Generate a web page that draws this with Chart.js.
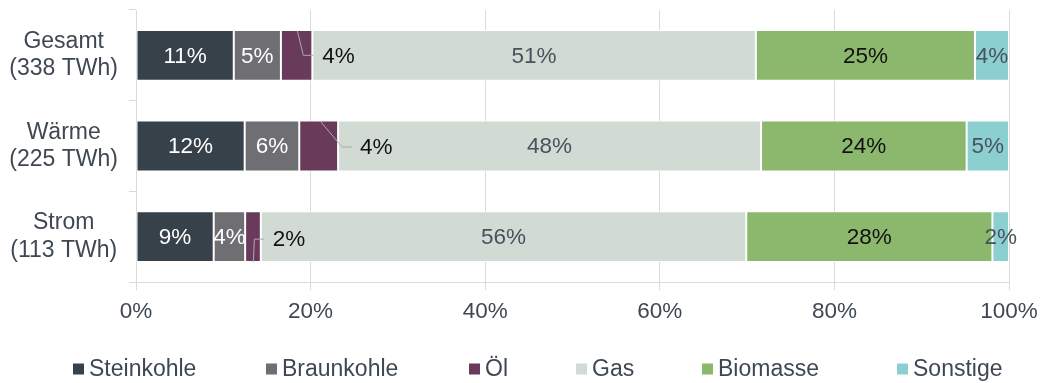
<!DOCTYPE html>
<html lang="de">
<head>
<meta charset="utf-8">
<title>Brennstoffeinsatz nach Energieträger</title>
<script src="https://cdn.jsdelivr.net/npm/chart.js@4.4.1/dist/chart.umd.min.js"></script>
<style>
  html, body { margin: 0; padding: 0; background: #fff; }
  #wrap { width: 1042px; height: 383px; position: relative; }
</style>
</head>
<body>
<div id="wrap"><canvas id="chart"></canvas></div>
<script>
// Kategorien (Zeilen) und Energieträger
const categories = [['Gesamt', '(338 TWh)'], ['Wärme', '(225 TWh)'], ['Strom', '(113 TWh)']];
const seriesNames = ['Steinkohle', 'Braunkohle', 'Öl', 'Gas', 'Biomasse', 'Sonstige'];

// Anteile in % je Kategorie: Gesamt, Wärme, Strom
const steinkohle = [11.2, 12.45, 8.9];
const braunkohle = [5.4, 6.25, 3.6];
const oel        = [3.6, 4.45, 1.8];
const gas        = [50.8, 48.45, 55.6];
const biomasse   = [25.1, 23.55, 28.2];
const sonstige   = [3.9, 4.85, 1.9];

const xTicks = [0, 20, 40, 60, 80, 100];

// Darstellung
const FONT = '"Liberation Sans", Arial, sans-serif';
const TICK_SIZE = 22.5;
const CAT_SIZE = 23;
const TEXT = '#3f4852';
const GRID = '#d6ddd7';
const fillColors  = ['#37414a', '#6f6f73', '#6a3a5b', '#d1dbd3', '#8bb86c', '#8ccfd1'];
const labelColors = ['#ffffff', '#ffffff', '#111111', '#48525c', '#111111', '#48525c'];

// Öl-Beschriftungen sitzen neben dem Balken, mit Führungslinie
// (Versatz relativ zum rechten Balkenende / zur Balkenmitte)
const oelCallouts = [
  { label: [10, 0],   line: [[-15, -24.5], [-9, 0], [1, 0]] },
  { label: [22, 1],   line: [[-18, -25], [4, 1], [14, 1]] },
  { label: [12, 2.5], line: [[-7.5, 25.5], [-6.5, 2.5], [3.5, 2.5]] }
];

// Legende: linke Kante der Farbkästchen
const legendX = [73, 266, 469, 576, 702, 897];
const legendY = 369;

const seriesData = [steinkohle, braunkohle, oel, gas, biomasse, sonstige];

const datasets = seriesNames.map((name, i) => ({
  label: name,
  data: seriesData[i],
  backgroundColor: fillColors[i],
  borderColor: '#ffffff',
  borderWidth: 1,
  borderSkipped: false,
  barPercentage: 0.56,
  categoryPercentage: 1,
  labelColor: labelColors[i],
  callouts: name === 'Öl' ? oelCallouts : null
}));

// Prozentwerte in bzw. neben den Balken
const barLabels = {
  id: 'barLabels',
  afterDatasetsDraw(chart) {
    const ctx = chart.ctx;
    ctx.save();
    ctx.font = `${TICK_SIZE}px ${FONT}`;
    ctx.textBaseline = 'middle';
    chart.data.datasets.forEach((ds, i) => {
      const meta = chart.getDatasetMeta(i);
      meta.data.forEach((bar, j) => {
        const text = Math.round(ds.data[j]) + '%';
        ctx.fillStyle = ds.labelColor;
        if (ds.callouts) {
          const c = ds.callouts[j];
          ctx.strokeStyle = '#a4abb3';
          ctx.lineWidth = 1;
          ctx.beginPath();
          c.line.forEach(([dx, dy], k) => {
            if (k === 0) ctx.moveTo(bar.x + dx, bar.y + dy);
            else ctx.lineTo(bar.x + dx, bar.y + dy);
          });
          ctx.stroke();
          ctx.textAlign = 'left';
          ctx.fillText(text, bar.x + c.label[0], bar.y + c.label[1] + 1);
        } else {
          ctx.textAlign = 'center';
          ctx.fillText(text, (bar.x + bar.base) / 2, bar.y + 1);
        }
      });
    });
    ctx.restore();
  }
};

// Legende unter der Achse, einzeilig
const bottomLegend = {
  id: 'bottomLegend',
  afterDraw(chart) {
    const ctx = chart.ctx;
    ctx.save();
    ctx.font = `${CAT_SIZE}px ${FONT}`;
    ctx.textBaseline = 'middle';
    ctx.textAlign = 'left';
    chart.data.datasets.forEach((ds, i) => {
      const x = legendX[i];
      ctx.fillStyle = ds.backgroundColor;
      ctx.fillRect(x, legendY - 5.5, 11, 11);
      ctx.fillStyle = TEXT;
      ctx.fillText(ds.label, x + 16, legendY + 1);
    });
    ctx.restore();
  }
};

new Chart(document.getElementById('chart'), {
  type: 'bar',
  data: { labels: categories, datasets },
  options: {
    indexAxis: 'y',
    responsive: true,
    maintainAspectRatio: false,
    animation: false,
    layout: { padding: { left: 10, right: 33, top: 10, bottom: 58 } },
    scales: {
      x: {
        stacked: true,
        min: 0,
        max: 100,
        afterBuildTicks: axis => { axis.ticks = xTicks.map(v => ({ value: v })); },
        afterFit: axis => {
          axis.paddingLeft = 0;
          axis.paddingRight = 0;
          axis.height = 43;
        },
        grid: { color: GRID, lineWidth: 1, tickLength: 8 },
        border: { display: true, color: GRID },
        ticks: {
          color: TEXT,
          font: { family: FONT, size: TICK_SIZE },
          padding: 8,
          maxRotation: 0,
          callback: v => v + '%'
        }
      },
      y: {
        stacked: true,
        afterFit: axis => {
          axis.paddingTop = 0;
          axis.paddingBottom = 0;
          axis.width = 126;
        },
        grid: { color: GRID, drawOnChartArea: false, tickLength: 7 },
        border: { display: true, color: GRID },
        ticks: {
          color: TEXT,
          font: { family: FONT, size: CAT_SIZE },
          crossAlign: 'center',
          padding: 11
        }
      }
    },
    plugins: {
      legend: { display: false },
      tooltip: { enabled: false }
    }
  },
  plugins: [barLabels, bottomLegend]
});
</script>
</body>
</html>
